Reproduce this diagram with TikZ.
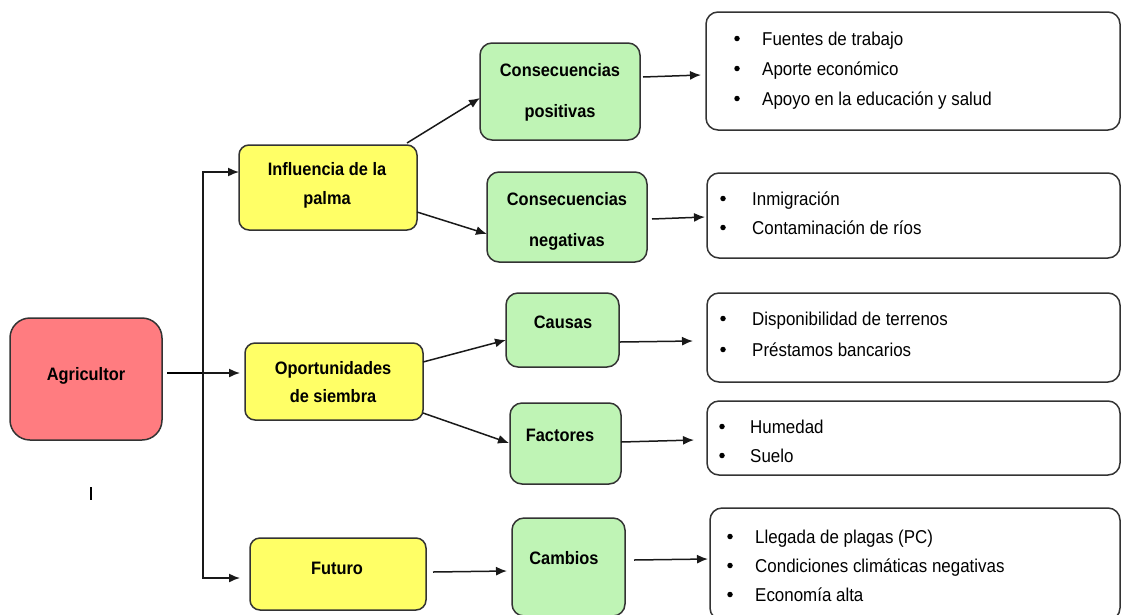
\documentclass[tikz,border=0pt]{standalone}
\usepackage{fontspec}
\setmainfont[FakeStretch=0.91]{Liberation Sans}
\usetikzlibrary{arrows.meta}
\definecolor{cred}{HTML}{FF7C80}
\definecolor{cyel}{HTML}{FFFF66}
\definecolor{cgrn}{HTML}{BFF4B5}
\definecolor{cbord}{HTML}{333333}
\begin{document}
\begin{tikzpicture}[x=1pt,y=-1pt,
  box/.style={draw=cbord, line width=1.5pt, rounded corners=11pt, inner sep=0pt, outer sep=0pt},
  redbox/.style={box, fill=cred, rounded corners=20pt},
  yelbox/.style={box, fill=cyel, rounded corners=10pt},
  grnbox/.style={box, fill=cgrn, rounded corners=12pt},
  whtbox/.style={box, fill=white, rounded corners=12pt},
  arr/.style={-{Latex[length=11pt,width=9pt]}, line width=1.5pt, draw=black!90},
  bt/.style={font=\fontsize{18}{20}\selectfont\bfseries, inner sep=0pt, anchor=base},
  lt/.style={font=\fontsize{18.6}{20}\selectfont, inner sep=0pt, anchor=base west},
  dot/.style={circle, fill=black, inner sep=0pt, minimum size=5.5pt, yshift=6.5pt}
]
\useasboundingbox (0,0) rectangle (1121,614);

% main boxes
\node[redbox, minimum width=152pt, minimum height=122pt] (ag) at (86,379) {};
\node[yelbox, minimum width=178pt, minimum height=85pt] (y1) at (328,187.5) {};
\node[yelbox, minimum width=178pt, minimum height=77pt] (y2) at (334,381.5) {};
\node[yelbox, minimum width=176pt, minimum height=72pt] (y3) at (338,574) {};

\node[grnbox, minimum width=160pt, minimum height=97pt] (g1) at (560,91.5) {};
\node[grnbox, minimum width=160pt, minimum height=90pt] (g2) at (567,217) {};
\node[grnbox, minimum width=113pt, minimum height=74pt] (g3) at (562.5,330) {};
\node[grnbox, minimum width=111pt, minimum height=81pt] (g4) at (565.5,443.5) {};
\node[grnbox, minimum width=113pt, minimum height=98pt] (g5) at (568.5,567) {};

\node[whtbox, minimum width=414pt, minimum height=118pt] (w1) at (913,71) {};
\node[whtbox, minimum width=413pt, minimum height=85pt] (w2) at (913.5,215.5) {};
\node[whtbox, minimum width=413pt, minimum height=89pt] (w3) at (913.5,337.5) {};
\node[whtbox, minimum width=413pt, minimum height=74pt] (w4) at (913.5,438) {};
\node[whtbox, minimum width=410pt, minimum height=112pt] (w5) at (915,564) {};

% bold texts
\node[bt] (tag) at (86,380) {Agricultor};
\node[bt] (ty1a) at (327,175) {Influencia de la};
\node[bt] (ty1b) at (327,204) {palma};
\node[bt] (ty2a) at (333,374) {Oportunidades};
\node[bt] (ty2b) at (333,402) {de siembra};
\node[bt] (ty3) at (337,574) {Futuro};
\node[bt] (tg1a) at (560,76) {Consecuencias};
\node[bt] (tg1b) at (560,117) {positivas};
\node[bt] (tg2a) at (567,205) {Consecuencias};
\node[bt] (tg2b) at (567,246) {negativas};
\node[bt] (tg3) at (563,328) {Causas};
\node[bt] (tg4) at (560,441) {Factores};
\node[bt] (tg5) at (564,564) {Cambios};

% list texts
\node[dot] (b11) at (737,45) {};
\node[dot] (b12) at (737,75) {};
\node[dot] (b13) at (737,105) {};
\node[lt] (l11) at (762,45) {Fuentes de trabajo};
\node[lt] (l12) at (762,75) {Aporte económico};
\node[lt] (l13) at (762,105) {Apoyo en la educación y salud};

\node[dot] (b21) at (723,205) {};
\node[dot] (b22) at (723,234) {};
\node[lt] (l21) at (752,205) {Inmigración};
\node[lt] (l22) at (752,234) {Contaminación de ríos};

\node[dot] (b31) at (723,325) {};
\node[dot] (b32) at (723,356) {};
\node[lt] (l31) at (752,325) {Disponibilidad de terrenos};
\node[lt] (l32) at (752,356) {Préstamos bancarios};

\node[dot] (b41) at (722,433) {};
\node[dot] (b42) at (722,462) {};
\node[lt] (l41) at (750,433) {Humedad};
\node[lt] (l42) at (750,462) {Suelo};

\node[dot] (b51) at (730,543) {};
\node[dot] (b52) at (730,572) {};
\node[dot] (b53) at (730,601) {};
\node[lt] (l51) at (755,543) {Llegada de plagas (PC)};
\node[lt] (l52) at (755,572) {Condiciones climáticas negativas};
\node[lt] (l53) at (755,601) {Economía alta};

% stray mark
\draw[line width=1.3pt] (91,487) -- (91,500);

% connectors: trunk
\coordinate (tr) at (203,373);
\draw[line width=1.5pt] ([xshift=5pt,yshift=6pt]ag.east) -- (tr);
\draw[arr] (tr) -- ([xshift=-5pt,yshift=8.5pt]y2.west);
\draw[arr] (tr) |- ([yshift=15.5pt]y1.west);
\draw[arr] (tr) |- ([xshift=-10pt,yshift=-4pt]y3.west);

% yellow -> green
\draw[arr] ([xshift=-10pt,yshift=2pt]y1.north east) -- ([yshift=-6.5pt]g1.west);
\draw[arr] ([yshift=-24.5pt]y1.east) -- ([yshift=-17pt]g2.west);
\draw[arr] ([yshift=19.5pt]y2.east) -- ([yshift=-10pt]g3.west);
\draw[arr] ([yshift=-31.5pt]y2.east) -- ([xshift=-1pt,yshift=0.5pt]g4.west);
\draw[arr] ([xshift=7pt,yshift=2pt]y3.east) -- ([xshift=-5pt,yshift=-4pt]g5.west);

% green -> white
\draw[arr] ([xshift=3pt,yshift=14.5pt]g1.east) -- ([xshift=-5pt,yshift=-4pt]w1.west);
\draw[arr] ([xshift=5pt,yshift=-2pt]g2.east) -- ([xshift=-2pt,yshift=-1.5pt]w2.west);
\draw[arr] ([xshift=1pt,yshift=-12pt]g3.east) -- ([xshift=-14pt,yshift=-3.5pt]w3.west);
\draw[arr] ([xshift=0pt,yshift=1.5pt]g4.east) -- ([xshift=-13pt,yshift=-2pt]w4.west);
\draw[arr] ([xshift=9pt,yshift=7pt]g5.east) -- ([xshift=-2pt,yshift=5pt]w5.west);
\end{tikzpicture}
\end{document}
